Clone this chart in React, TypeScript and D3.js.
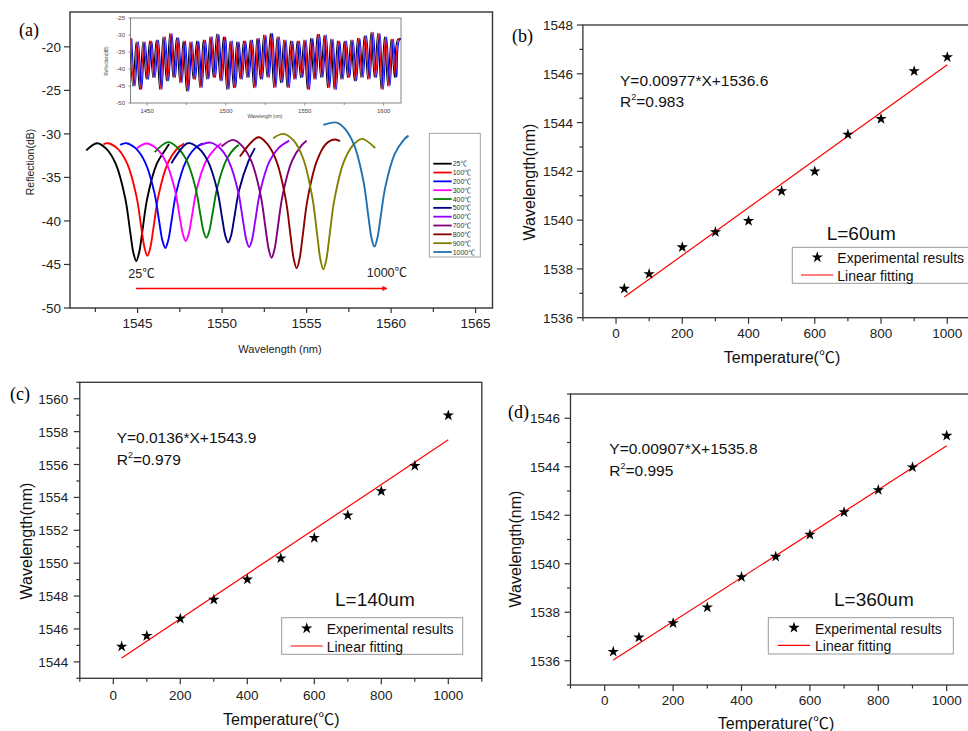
import * as d3 from 'd3';

const W = 968;
const H = 731;
const SANS = '"Liberation Sans", Arial, "Noto Sans CJK SC", sans-serif';
const SERIF = '"Liberation Serif", "Times New Roman", serif';
const AXIS = '#333';

// ---------- (a) reflection spectra, one per temperature ----------
const tempLabels = ['25℃', '100℃', '200℃', '300℃', '400℃', '500℃', '600℃', '700℃', '800℃', '900℃', '1000℃'];
const tempColors = ['#000000', '#ff0000', '#0000ff', '#ff00ff', '#008000', '#000080', '#9400ff', '#800080', '#8b0000', '#808000', '#2070b0'];

const spec25 = [[1541.96, -31.9], [1542.6, -31.07], [1543.17, -31.75], [1543.72, -33.51], [1544.27, -37.43], [1544.56, -41.22], [1544.75, -43.65], [1544.92, -44.6], [1545.09, -43.65], [1545.28, -41.22], [1545.57, -37.43], [1546.12, -33.51], [1546.67, -31.75], [1546.86, -31.15]];
const spec100 = [[1542.98, -31.2], [1543.24, -31.07], [1543.83, -31.72], [1544.38, -33.4], [1544.93, -37.15], [1545.22, -40.77], [1545.41, -43.09], [1545.58, -44.0], [1545.75, -43.09], [1545.94, -40.77], [1546.23, -37.15], [1546.78, -33.4], [1547.33, -31.72], [1547.75, -31.1]];
const spec200 = [[1543.97, -31.26], [1544.33, -31.07], [1544.89, -31.67], [1545.44, -33.24], [1545.99, -36.72], [1546.28, -40.09], [1546.47, -42.26], [1546.64, -43.1], [1546.81, -42.26], [1547.0, -40.09], [1547.29, -36.72], [1547.84, -33.24], [1548.39, -31.67], [1548.85, -31.1]];
const spec300 = [[1544.96, -31.64], [1545.52, -31.1], [1546.1, -31.66], [1546.65, -33.12], [1547.2, -36.36], [1547.49, -39.5], [1547.68, -41.52], [1547.85, -42.3], [1548.02, -41.52], [1548.21, -39.5], [1548.5, -36.36], [1549.05, -33.12], [1549.6, -31.66], [1549.95, -31.1]];
const spec400 = [[1546.01, -32.1], [1546.8, -30.95], [1547.32, -31.5], [1547.87, -32.93], [1548.42, -36.12], [1548.71, -39.2], [1548.9, -41.18], [1549.07, -41.95], [1549.24, -41.18], [1549.43, -39.2], [1549.72, -36.12], [1550.27, -32.93], [1550.82, -31.5], [1551.0, -31.3]];
const spec500 = [[1547.0, -33.37], [1547.98, -31.07], [1548.61, -31.64], [1549.16, -33.13], [1549.71, -36.44], [1550.0, -39.64], [1550.19, -41.69], [1550.36, -42.49], [1550.53, -41.69], [1550.72, -39.64], [1551.01, -36.44], [1551.56, -33.13], [1551.94, -31.64]];
const spec600 = [[1548.7, -31.3], [1549.3, -31.0], [1549.85, -31.6], [1550.4, -33.16], [1550.95, -36.64], [1551.24, -40.0], [1551.43, -42.16], [1551.6, -43.0], [1551.77, -42.16], [1551.96, -40.0], [1552.25, -36.64], [1552.8, -33.16], [1553.35, -31.6], [1553.97, -30.77]];
const spec700 = [[1549.96, -31.46], [1550.65, -30.69], [1551.18, -31.37], [1551.73, -33.13], [1552.28, -37.05], [1552.57, -40.84], [1552.76, -43.27], [1552.93, -44.22], [1553.1, -43.27], [1553.29, -40.84], [1553.58, -37.05], [1554.13, -33.13], [1554.68, -31.37], [1555.0, -30.8]];
const spec800 = [[1551.05, -32.6], [1552.14, -30.38], [1552.66, -31.13], [1553.21, -33.09], [1553.76, -37.46], [1554.05, -41.68], [1554.24, -44.39], [1554.41, -45.44], [1554.58, -44.39], [1554.77, -41.68], [1555.06, -37.46], [1555.61, -33.09], [1556.16, -31.13], [1556.7, -30.65], [1556.98, -30.85]];
const spec900 = [[1553.02, -30.5], [1553.62, -30.0], [1554.24, -30.78], [1554.79, -32.8], [1555.34, -37.31], [1555.63, -41.66], [1555.82, -44.46], [1555.99, -45.55], [1556.16, -44.5], [1556.35, -41.8], [1556.64, -37.61], [1557.19, -33.27], [1557.74, -31.32], [1558.27, -30.57], [1559.06, -31.64]];
const spec1000 = [[1555.99, -28.97], [1556.78, -28.7], [1557.26, -29.41], [1557.81, -31.27], [1558.36, -35.4], [1558.65, -39.39], [1558.84, -41.95], [1559.01, -42.95], [1559.18, -42.04], [1559.37, -39.71], [1559.66, -36.09], [1560.21, -32.33], [1560.76, -30.65], [1561.03, -30.2]];
const spectra = [spec25, spec100, spec200, spec300, spec400, spec500, spec600, spec700, spec800, spec900, spec1000];

const aYTicks = [-20, -25, -30, -35, -40, -45, -50];
const aXTicks = [1545, 1550, 1555, 1560, 1565];
const aXMinor = [1542.5, 1547.5, 1552.5, 1557.5, 1562.5];

// ---------- (a) inset: broadband spectrum ----------
const insetDips = [[1441.0, -45], [1445.2, -46], [1449.5, -43], [1453.7, -42.5], [1458.0, -46], [1462.3, -43.5], [1466.5, -42.5], [1470.8, -44], [1475.0, -46.5], [1479.3, -43], [1483.5, -45.5], [1487.8, -43], [1492.0, -42.5], [1496.3, -43.5], [1500.5, -46], [1504.8, -45.5], [1509.0, -43], [1513.3, -42.5], [1517.6, -45.5], [1521.8, -43], [1526.1, -42.5], [1530.3, -45.5], [1534.6, -44], [1538.8, -45.5], [1543.1, -43], [1547.3, -42.5], [1551.6, -46], [1555.8, -43], [1560.1, -42.5], [1564.4, -45.5], [1568.6, -46], [1572.9, -43], [1577.1, -42.5], [1581.4, -43.5], [1585.6, -42.5], [1589.9, -43], [1594.1, -42.5], [1598.4, -46], [1602.6, -45], [1606.9, -42.5]];
const insetPeaks = [[1438.9, -31], [1443.1, -32], [1447.35, -32], [1451.6, -31.8], [1455.85, -31.5], [1460.15, -30.5], [1464.4, -29.6], [1468.65, -30.8], [1472.9, -31.8], [1477.15, -32], [1481.4, -31.8], [1485.65, -31.5], [1489.9, -30.5], [1494.15, -29.7], [1498.4, -30.5], [1502.65, -31.8], [1506.9, -32], [1511.15, -31.8], [1515.45, -31.5], [1519.7, -31], [1523.95, -30], [1528.2, -29.5], [1532.45, -30.5], [1536.7, -31.5], [1540.95, -31.8], [1545.2, -31.8], [1549.45, -31.5], [1553.7, -31], [1557.95, -29.8], [1562.25, -30], [1566.5, -31.2], [1570.75, -31.8], [1575.0, -31.8], [1579.25, -31.5], [1583.5, -31], [1587.75, -30.2], [1592.0, -29.2], [1596.25, -29.5], [1600.5, -30.5], [1604.75, -31.2], [1609.05, -31.2], [1613.2, -31.5]];
const insetShifts = [0, 0.7, 1.4];
const insetColors = ['#000000', '#ff0000', '#0000ff'];
const insetYTicks = [-25, -30, -35, -40, -45, -50];
const insetXTicks = [1450, 1500, 1550, 1600];
const insetXMinor = [1475, 1525, 1575];

// ---------- (b)(c)(d) peak wavelength vs temperature ----------
const temps = [25, 100, 200, 300, 400, 500, 600, 700, 800, 900, 1000];
const wl60 = [1537.19, 1537.79, 1538.89, 1539.51, 1539.97, 1541.19, 1542.0, 1543.51, 1544.15, 1546.11, 1546.68];
const wl140 = [1544.93, 1545.58, 1546.63, 1547.78, 1549.01, 1550.3, 1551.54, 1552.91, 1554.38, 1555.92, 1558.99];
const wl360 = [1536.37, 1536.96, 1537.55, 1538.2, 1539.45, 1540.29, 1541.2, 1542.13, 1543.04, 1543.98, 1545.28];
const fit60 = [0.00977, 1536.6];
const fit140 = [0.0136, 1543.9];
const fit360 = [0.00907, 1535.8];
const tXTicks = [0, 200, 400, 600, 800, 1000];
const tXMinor = [-100, 100, 300, 500, 700, 900, 1100];

type Leg = { x0: number; x1: number; y0: number; y1: number; starX: number; starY: number; textX: number; t1: number; t2: number; lx0: number; lx1: number; ly: number };
type PanelProps = {
  tag: string; tagX: number; tagY: number;
  xRange: [number, number]; yRange: [number, number]; yDomain: [number, number];
  yMajor: number[]; yMinor: number[];
  values: number[]; fit: number[]; eq: string; r2: string; len: string;
  eqX: number; eqY: number; r2Y: number; lenX: number; lenY: number;
  yTickX: number; xTickY: number; xLabel: [number, number]; yLabel: [number, number];
  leg: Leg;
};

function TempPanel(p: PanelProps) {
  const x = d3.scaleLinear().domain([-100, 1100]).range(p.xRange);
  const y = d3.scaleLinear().domain(p.yDomain).range(p.yRange);
  const [x0, x1] = p.xRange;
  const [yb, yt] = p.yRange;
  const star = d3.symbol(d3.symbolStar).size(40)() as string;
  const fitLine = d3.line<number>().x(t => x(t)).y(t => y(p.fit[0] * t + p.fit[1]));
  const fitT = [temps[0], temps[temps.length - 1]];
  return (
    <g>
      <rect x={x0} y={yt} width={x1 - x0} height={yb - yt} fill="none" stroke={AXIS} strokeWidth={1.3} />
      {p.yMajor.map(v => (
        <g key={'ym' + v}>
          <line x1={x0 - 6} x2={x0} y1={y(v)} y2={y(v)} stroke={AXIS} strokeWidth={1.2} />
          <text x={p.yTickX} y={y(v) + 5} textAnchor="end" fontSize={13.5} fill="#222">{v}</text>
        </g>
      ))}
      {p.yMinor.map(v => (
        <line key={'yn' + v} x1={x0 - 3.5} x2={x0} y1={y(v)} y2={y(v)} stroke={AXIS} strokeWidth={1.2} />
      ))}
      {tXTicks.map(v => (
        <g key={'xm' + v}>
          <line x1={x(v)} x2={x(v)} y1={yb} y2={yb + 6} stroke={AXIS} strokeWidth={1.2} />
          <text x={x(v)} y={p.xTickY} textAnchor="middle" fontSize={13.5} fill="#222">{v}</text>
        </g>
      ))}
      {tXMinor.map(v => (
        <line key={'xn' + v} x1={x(v)} x2={x(v)} y1={yb} y2={yb + 3.5} stroke={AXIS} strokeWidth={1.2} />
      ))}
      <path d={fitLine(fitT) as string} stroke="#ff0000" strokeWidth={1.2} fill="none" />
      {temps.map((t, i) => (
        <path key={'s' + t} d={star} transform={`translate(${x(t)},${y(p.values[i])})`} fill="#000" />
      ))}
      <text x={p.tagX} y={p.tagY} fontFamily={SERIF} fontSize={18}>{p.tag}</text>
      <text x={p.eqX} y={p.eqY} fontSize={15.5} fill="#111">{p.eq}</text>
      <text x={p.eqX} y={p.r2Y} fontSize={15.5} fill="#111">
        R<tspan fontSize={9} dy={-7}>2</tspan><tspan dy={7}>{p.r2}</tspan>
      </text>
      <text x={p.lenX} y={p.lenY} fontSize={19} fill="#111">{p.len}</text>
      <rect x={p.leg.x0} y={p.leg.y0} width={p.leg.x1 - p.leg.x0} height={p.leg.y1 - p.leg.y0} fill="none" stroke="#999" strokeWidth={1} />
      <path d={star} transform={`translate(${p.leg.starX},${p.leg.starY})`} fill="#000" />
      <text x={p.leg.textX} y={p.leg.t1} fontSize={14} fill="#111">Experimental results</text>
      <line x1={p.leg.lx0} x2={p.leg.lx1} y1={p.leg.ly} y2={p.leg.ly} stroke="#ff0000" strokeWidth={1.2} />
      <text x={p.leg.textX} y={p.leg.t2} fontSize={14} fill="#111">Linear fitting</text>
      <text x={p.xLabel[0]} y={p.xLabel[1]} textAnchor="middle" fontSize={16} fill="#111">Temperature(℃)</text>
      <text transform={`translate(${p.yLabel[0]},${p.yLabel[1]}) rotate(-90)`} textAnchor="middle" dy={6} fontSize={16} fill="#111">Wavelength(nm)</text>
    </g>
  );
}

function PanelA() {
  const ax = d3.scaleLinear().domain([1541, 1566]).range([70, 492.5]);
  const ay = d3.scaleLinear().domain([-50, -16]).range([308, 12]);
  const line = d3.line<number[]>().x(d => ax(d[0])).y(d => ay(d[1])).curve(d3.curveCatmullRom.alpha(0.5));

  const ix = d3.scaleLinear().domain([1439.5, 1611]).range([130.5, 401]);
  const iy = d3.scaleLinear().domain([-50, -25]).range([103, 18]);
  const trace = [...insetDips, ...insetPeaks].sort((a, b) => a[0] - b[0]);
  const iline = d3.line<number[]>().curve(d3.curveCatmullRom.alpha(0.5));

  return (
    <g>
      <defs>
        <clipPath id="clipA"><rect x={70} y={12} width={422.5} height={296} /></clipPath>
        <clipPath id="clipInset"><rect x={130.5} y={18} width={270.5} height={85} /></clipPath>
        <marker id="arrowRed" viewBox="0 0 10 10" refX={9} refY={5} markerWidth={6} markerHeight={5} orient="auto" markerUnits="userSpaceOnUse">
          <path d="M0,0 L10,5 L0,10 z" fill="#ff0000" />
        </marker>
      </defs>
      <rect x={70} y={12} width={422.5} height={296} fill="none" stroke={AXIS} strokeWidth={1.4} />
      {aYTicks.map(v => (
        <g key={'ay' + v}>
          <line x1={64} x2={70} y1={ay(v)} y2={ay(v)} stroke={AXIS} strokeWidth={1.2} />
          <text x={61} y={ay(v) + 5} textAnchor="end" fontSize={13.5} fill="#222">{v}</text>
        </g>
      ))}
      {aXTicks.map(v => (
        <g key={'ax' + v}>
          <line x1={ax(v)} x2={ax(v)} y1={308} y2={313} stroke={AXIS} strokeWidth={1.2} />
          <text x={ax(v)} y={328} textAnchor="middle" fontSize={13.5} fill="#222">{v}</text>
        </g>
      ))}
      {aXMinor.map(v => (
        <line key={'axm' + v} x1={ax(v)} x2={ax(v)} y1={308} y2={312} stroke={AXIS} strokeWidth={1.2} />
      ))}
      <text x={280} y={353} textAnchor="middle" fontSize={11} fill="#222">Wavelength (nm)</text>
      <text transform="translate(30,162) rotate(-90)" textAnchor="middle" dy={4} fontSize={10.5} fill="#222">Reflection(dB)</text>
      <text x={19} y={36} fontFamily={SERIF} fontSize={18}>(a)</text>

      <g clipPath="url(#clipA)">
        {spectra.map((s, i) => (
          <path key={'sp' + i} d={line(s) as string} stroke={tempColors[i]} strokeWidth={1.9} fill="none" />
        ))}
      </g>
      <text x={ax(1544.45)} y={ay(-46.6)} fontSize={12.5} fill="#222">25℃</text>
      <text x={ax(1558.56)} y={ay(-46.4)} fontSize={12.5} fill="#222">1000℃</text>
      <line x1={ax(1544.9)} x2={ax(1559.75)} y1={ay(-47.75)} y2={ay(-47.75)} stroke="#ff0000" strokeWidth={1.5} markerEnd="url(#arrowRed)" />

      {/* inset */}
      <rect x={130.5} y={18} width={270.5} height={85} fill="#fff" stroke="#777" strokeWidth={0.9} />
      <g clipPath="url(#clipInset)">
        {insetShifts.map((sh, k) => (
          <path key={'in' + k} d={iline(trace.map(d => [ix(d[0] + sh), iy(d[1])] as [number, number])) as string}
            stroke={insetColors[k]} strokeWidth={1.1} fill="none" />
        ))}
      </g>
      {insetYTicks.map(v => (
        <g key={'iy' + v}>
          <line x1={128.5} x2={130.5} y1={iy(v)} y2={iy(v)} stroke="#666" strokeWidth={0.7} />
          <text x={125} y={iy(v) + 2} textAnchor="end" fontSize={6} fill="#444">{v}</text>
        </g>
      ))}
      {insetXTicks.map(v => (
        <g key={'ix' + v}>
          <line x1={ix(v)} x2={ix(v)} y1={103} y2={105.5} stroke="#666" strokeWidth={0.7} />
          <text x={ix(v)} y={112.5} textAnchor="middle" fontSize={6} fill="#444">{v}</text>
        </g>
      ))}
      {insetXMinor.map(v => (
        <line key={'ixm' + v} x1={ix(v)} x2={ix(v)} y1={103} y2={105} stroke="#666" strokeWidth={0.7} />
      ))}
      <text x={265} y={117.5} textAnchor="middle" fontSize={4.6} fill="#444">Wavelength (nm)</text>
      <text transform="translate(106,61) rotate(-90)" textAnchor="middle" dy={1.5} fontSize={4.6} fill="#444">Reflection(dB)</text>

      {/* legend */}
      <rect x={429.3} y={133.3} width={51} height={123.7} fill="#fff" stroke="#999" strokeWidth={0.9} />
      {tempLabels.map((t, i) => (
        <g key={'lg' + t}>
          <line x1={433.3} x2={451.7} y1={163.7 + i * 8.83} y2={163.7 + i * 8.83} stroke={tempColors[i]} strokeWidth={1.8} />
          <text x={452.7} y={163.7 + i * 8.83 + 2.5} fontSize={7} fill="#333">{t}</text>
        </g>
      ))}
    </g>
  );
}

export default function App() {
  return (
    <svg width={W} height={H} style={{ position: 'absolute', left: 0, top: 0, background: '#fff' }} fontFamily={SANS}>
      <rect width={W} height={H} fill="#fff" />
      <PanelA />
      <TempPanel
        tag="(b)" tagX={512} tagY={42}
        xRange={[582.9, 980.4]} yRange={[317.7, 25]} yDomain={[1536, 1548]}
        yMajor={[1536, 1538, 1540, 1542, 1544, 1546, 1548]} yMinor={[1537, 1539, 1541, 1543, 1545, 1547]}
        values={wl60} fit={fit60} eq="Y=0.00977*X+1536.6" r2="=0.983" len="L=60um"
        eqX={620} eqY={86} r2Y={107} lenX={826.7} lenY={240}
        yTickX={573} xTickY={338} xLabel={[782, 363]} yLabel={[529, 182]}
        leg={{ x0: 792.3, x1: 990, y0: 247.3, y1: 283.3, starX: 817.3, starY: 257.3, textX: 837.3, t1: 263, t2: 281, lx0: 801, lx1: 833.3, ly: 275 }}
      />
      <TempPanel
        tag="(c)" tagX={10} tagY={400}
        xRange={[79.8, 481.8]} yRange={[678.3, 382.3]} yDomain={[1543, 1561]}
        yMajor={[1544, 1546, 1548, 1550, 1552, 1554, 1556, 1558, 1560]} yMinor={[1543, 1545, 1547, 1549, 1551, 1553, 1555, 1557, 1559, 1561]}
        values={wl140} fit={fit140} eq="Y=0.0136*X+1543.9" r2="=0.979" len="L=140um"
        eqX={116.7} eqY={443.3} r2Y={465} lenX={335} lenY={605.7}
        yTickX={68.3} xTickY={700} xLabel={[281.3, 725]} yLabel={[25.5, 541]}
        leg={{ x0: 281.7, x1: 462.7, y0: 617.7, y1: 654.3, starX: 306.7, starY: 628.3, textX: 326.7, t1: 634, t2: 652, lx0: 290.7, lx1: 322.7, ly: 646 }}
      />
      <TempPanel
        tag="(d)" tagX={508} tagY={418}
        xRange={[570.5, 980.9]} yRange={[685, 394]} yDomain={[1535, 1547]}
        yMajor={[1536, 1538, 1540, 1542, 1544, 1546]} yMinor={[1535, 1537, 1539, 1541, 1543, 1545, 1547]}
        values={wl360} fit={fit360} eq="Y=0.00907*X+1535.8" r2="=0.995" len="L=360um"
        eqX={609.3} eqY={454.3} r2Y={476} lenX={834} lenY={606}
        yTickX={560} xTickY={705} xLabel={[776, 729]} yLabel={[515, 549]}
        leg={{ x0: 768.3, x1: 953.3, y0: 617.7, y1: 654, starX: 794, starY: 627.7, textX: 815, t1: 634, t2: 651, lx0: 777.7, lx1: 810, ly: 645.3 }}
      />
    </svg>
  );
}
